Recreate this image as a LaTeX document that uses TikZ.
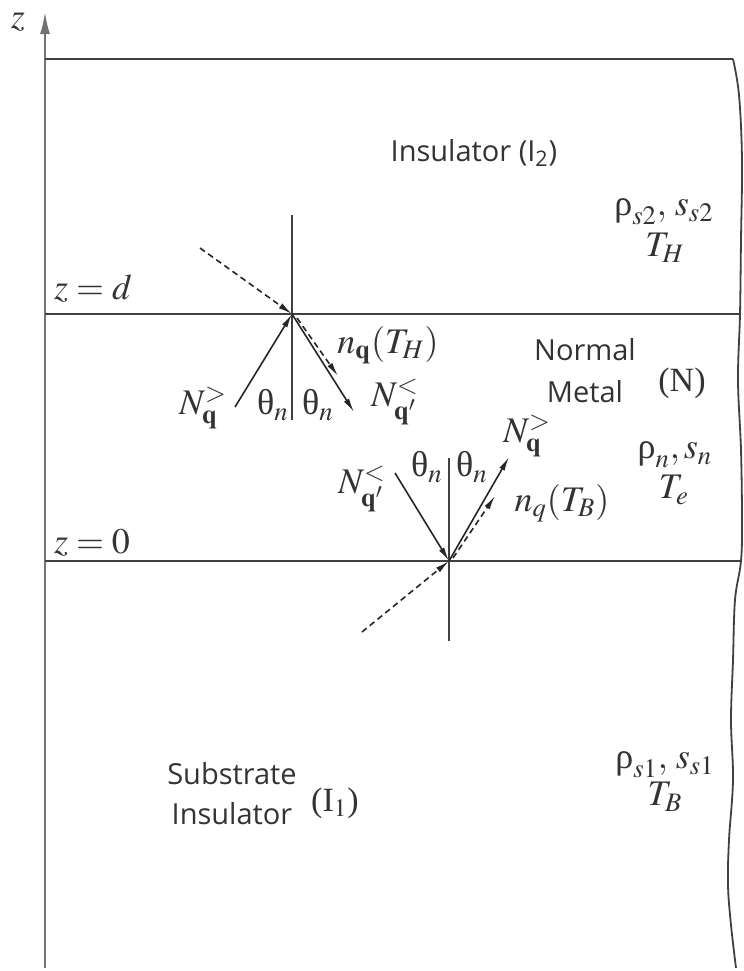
\documentclass[tikz,border=0pt]{standalone}
\usepackage{mathptmx}
\usepackage{fontspec}
\setmainfont{Liberation Serif}
\setsansfont{Open Sans}
\usetikzlibrary{arrows.meta, positioning}
\newcommand{\urho}{\textnormal{ρ}}
\newcommand{\uth}{\textnormal{θ}}
\tikzset{
  layer/.style={draw=black!75, line width=1.1pt},
  axis/.style={draw=black!55, line width=1pt, -{Latex[length=11pt,width=5pt]}},
  normal/.style={draw=black!75, line width=0.6pt},
  wave/.style={-{Latex[length=7pt,width=3pt]}, draw=black!85, line width=0.8pt},
  phonon/.style={wave, dash pattern=on 3pt off 2pt},
  region/.style={font=\sffamily\fontsize{14.5}{20}\selectfont, text=black!80, align=center},
  prop/.style={font=\fontsize{18}{20}\selectfont, text=black!80, align=center, inner sep=0pt},
}

\begin{document}
\begin{tikzpicture}[x=0.5pt, y=-0.5pt]
  \useasboundingbox (0,0) rectangle (744,971);

  % ---- Axis and layers ----
  \coordinate (zbot) at (45,968);
  \coordinate (ztop) at (45,12);
  \coordinate (topL) at (45,59);
  \coordinate (topR) at (733,59);
  \coordinate (dL) at (45,314);
  \coordinate (dR) at (740,314);
  \coordinate (oL) at (45,561);
  \coordinate (oR) at (741,561);
  \draw [axis] (zbot) -- (ztop);
  \node (zlab) [prop] at (18,22) {$z$};
  \draw [layer] (topL) -- (topR);
  \draw [layer] (dL) -- (dR);
  \draw [layer] (oL) -- (oR);
  \draw [layer, line width=0.9pt] plot [smooth, tension=0.6] coordinates {
    (733,59) (739,95) (742,160) (741,240) (740,314) (738,380) (741,450)
    (742,520) (741,561) (735,600) (733,660) (731,720) (733,780) (729,840)
    (728,885) (731,925) (736,968)};

  % ---- Interface labels ----
  \node (zd) [prop] at (93,289) {$z=d$};
  \node (z0) [prop] at (92,543) {$z=0$};

  % ---- Regions ----
  \node (ins2) [region] at (474,153) {Insulator (I\textsubscript{2})};
  \node (rho2) [prop] at (664,212) {$\urho_{s2},\, s_{s2}$};
  \node (TH) [prop] at (665,248) {$T_H$};
  \node (metal) [region, font=\sffamily\fontsize{14.5}{21}\selectfont] at (585,371) {Normal\\Metal};
  \node (Nlab) [prop, font=\fontsize{17}{19}\selectfont] at (682,383) {(N)};
  \node (rhon) [prop] at (675,455) {$\urho_n, s_n$};
  \node (Te) [prop] at (674,490) {$T_e$};
  \node (sub) [region] at (232,794) {Substrate\\Insulator};
  \node (I1) [prop, font=\fontsize{17}{19}\selectfont] at (335,803) {(I$_1$)};
  \node (rho1) [prop] at (665,765) {$\urho_{s1},\, s_{s1}$};
  \node (TB) [prop] at (665,797) {$T_B$};

  % ---- Upper interface (z = d) ----
  \coordinate (top) at (292,314);
  \coordinate (topN1) at (292,215);
  \coordinate (topN2) at (292,420);
  \coordinate (inA) at (235,407);
  \coordinate (outA) at (354,412);
  \coordinate (dinA) at (200,248);
  \coordinate (dsA) at (297,318);
  \coordinate (deA) at (338,376);
  \draw [normal] (topN1) -- (topN2);
  \draw [phonon] (dinA) -- (top);
  \draw [wave] (inA) -- (top);
  \draw [wave] (top) -- (outA);
  \draw [phonon] (dsA) -- (deA);
  \node (NgA) [prop] at (203,408) {$N_{\mathbf{q}}^{>}$};
  \node (thA1) [prop] at (273,405) {$\uth_n$};
  \node (thA2) [prop] at (318,405) {$\uth_n$};
  \node (NlA) [prop] at (395,402) {$N_{\mathbf{q}'}^{<}$};
  \node (nqTH) [prop] at (388,345) {$n_{\mathbf{q}}(T_H)$};

  % ---- Lower interface (z = 0) ----
  \coordinate (bot) at (449,561);
  \coordinate (botN1) at (449,458);
  \coordinate (botN2) at (449,641);
  \coordinate (inB) at (395,473);
  \coordinate (outB) at (509,457);
  \coordinate (dinB) at (362,632);
  \coordinate (dsB) at (453,558);
  \coordinate (deB) at (495,496);
  \draw [normal] (botN1) -- (botN2);
  \draw [phonon] (dinB) -- (bot);
  \draw [wave] (inB) -- (bot);
  \draw [wave] (bot) -- (outB);
  \draw [phonon] (dsB) -- (deB);
  \node (NlB) [prop] at (362,489) {$N_{\mathbf{q}'}^{<}$};
  \node (thB1) [prop] at (427,467) {$\uth_n$};
  \node (thB2) [prop] at (472,467) {$\uth_n$};
  \node (NgB) [prop] at (527,436) {$N_{\mathbf{q}}^{>}$};
  \node (nqTB) [prop] at (562,503) {$n_q(T_B)$};

\end{tikzpicture}
\end{document}
